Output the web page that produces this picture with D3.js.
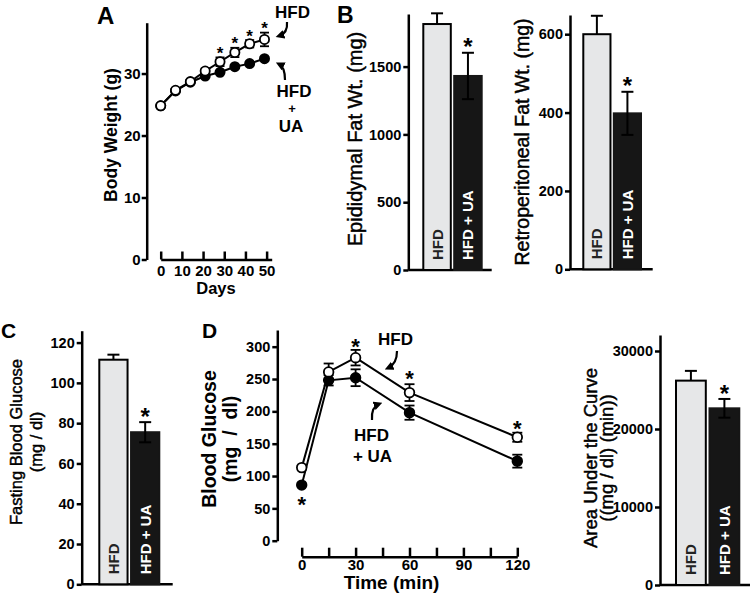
<!DOCTYPE html>
<html><head><meta charset="utf-8">
<script src="https://cdn.jsdelivr.net/npm/d3@7"></script>
<style>
body{margin:0;background:#fff;}
svg{display:block;font-family:"Liberation Sans",Arial,Helvetica,sans-serif;}
</style></head>
<body>
<svg id="c" width="750" height="597"></svg>
<script>
// ---------- DATA ----------
const days = [0, 7, 14, 21, 28, 35, 42, 49];
const bwHFD = [24.8, 27.3, 28.7, 30.4, 31.9, 33.4, 34.8, 35.5];
const bwHFDerr = [0.2, 0.3, 0.3, 0.4, 0.7, 0.75, 0.6, 1.1];
const bwUA = [24.8, 27.2, 28.6, 29.6, 30.2, 31.1, 31.6, 32.4];
const bwUAerr = [0.2, 0.2, 0.2, 0.2, 0.2, 0.2, 0.2, 0.2];
const bwStarDays = [28, 35, 42, 49];
const bwTicksY = [0, 10, 20, 30];
const bwTicksX = [0, 10, 20, 30, 40, 50];

const groups = ["HFD", "HFD + UA"];
const epiMeans = [1814, 1431];
const epiErr = [79, 171];
const epiTicks = [0, 500, 1000, 1500];
const retroMeans = [600, 398];
const retroErr = [47, 55];
const retroTicks = [0, 200, 400, 600];
const fbgMeans = [111.5, 75.5];
const fbgErr = [2.5, 5];
const fbgTicks = [0, 20, 40, 60, 80, 100, 120];
const aucMeans = [26200, 22650];
const aucErr = [1250, 1200];
const aucTicks = [0, 10000, 20000, 30000];

const times = [0, 15, 30, 60, 120];
const gHFD = [113, 261, 283, 229, 160];
const gHFDerr = [3, 13, 12, 13, 7];
const gUA = [86, 248, 252, 198, 123];
const gUAerr = [3, 8, 13, 11, 10];
const gTicksY = [0, 50, 100, 150, 200, 250, 300];
const gTicksX = [0, 15, 30, 45, 60, 75, 90, 105, 120];
const gTickLabelsX = [0, 30, 60, 90, 120];

// ---------- HELPERS ----------
const svg = d3.select("#c");
const FONT = '"Liberation Sans",Arial,Helvetica,sans-serif';

function styleAxis(g, fs) {
  g.selectAll("path.domain").attr("stroke", "#000").attr("stroke-width", 2.5);
  g.selectAll(".tick line").attr("stroke", "#000").attr("stroke-width", 2.5);
  g.selectAll(".tick text").attr("fill", "#000").attr("font-size", fs)
    .attr("font-weight", "bold").attr("font-family", FONT);
}
function star(x, yc, fs) {
  svg.append("text").attr("x", x).attr("y", yc + 0.57 * fs)
    .attr("text-anchor", "middle").attr("font-size", fs).attr("font-weight", "bold")
    .text("*");
}
function vTitle(x, y, txt, fs, weight) {
  const t = svg.append("text").attr("transform", `translate(${x},${y}) rotate(-90)`)
    .attr("text-anchor", "middle").attr("dominant-baseline", "central")
    .attr("font-size", fs).attr("font-weight", weight).style("white-space", "pre").text(txt);
  if (weight === "normal") t.attr("stroke", "#000").attr("stroke-width", 0.45);
}
function label(x, y, txt, fs) {
  svg.append("text").attr("x", x).attr("y", y).attr("font-size", fs)
    .attr("font-weight", "bold").text(txt);
}

svg.append("defs").append("marker").attr("id", "ah")
  .attr("viewBox", "0 0 10 10").attr("refX", 6).attr("refY", 5)
  .attr("markerWidth", 4).attr("markerHeight", 4).attr("orient", "auto")
  .append("path").attr("d", "M0,0 L10,5 L0,10 z").attr("fill", "#000");

function arrow(d) {
  svg.append("path").attr("d", d).attr("fill", "none").attr("stroke", "#000")
    .attr("stroke-width", 2.2).attr("marker-end", "url(#ah)");
}

function barPanel(o) {
  const y = d3.scaleLinear().domain([0, o.top]).range([o.y0, o.y1]);
  const x = d3.scaleBand().domain(groups).range([o.b0, o.b1]).paddingInner(0.11);
  const ax = svg.append("g").attr("transform", `translate(${o.ax},0)`)
    .call(d3.axisLeft(y).tickValues(o.ticks).tickSize(5).tickPadding(2).tickSizeOuter(0).tickFormat(d3.format("d")));
  styleAxis(ax, o.tfs);
  svg.append("line").attr("x1", o.ax).attr("x2", o.xEnd).attr("y1", o.y0).attr("y2", o.y0)
    .attr("stroke", "#000").attr("stroke-width", 2.5);
  groups.forEach((gname, i) => {
    const cx = x(gname) + x.bandwidth() / 2;
    const topY = y(o.means[i]);
    const errTop = y(o.means[i] + o.errs[i]);
    const errBot = y(o.means[i] - o.errs[i]);
    svg.append("rect").attr("x", x(gname)).attr("width", x.bandwidth())
      .attr("y", topY).attr("height", o.y0 - topY)
      .attr("fill", i === 0 ? "#e6e7e8" : "#161616")
      .attr("stroke", i === 0 ? "#000" : "#161616").attr("stroke-width", 2);
    svg.append("line").attr("x1", cx).attr("x2", cx).attr("y1", errTop).attr("y2", i === 1 ? errBot : topY)
      .attr("stroke", "#000").attr("stroke-width", 2);
    svg.append("line").attr("x1", cx - 6).attr("x2", cx + 6).attr("y1", errTop).attr("y2", errTop)
      .attr("stroke", "#000").attr("stroke-width", 2);
    if (i === 1) svg.append("line").attr("x1", cx - 6).attr("x2", cx + 6).attr("y1", errBot).attr("y2", errBot)
      .attr("stroke", "#000").attr("stroke-width", 2);
    svg.append("text").attr("transform", `translate(${cx},${o.y0 - 10}) rotate(-90)`)
      .attr("dominant-baseline", "central").attr("font-size", 15).attr("font-weight", "bold")
      .attr("fill", i === 0 ? "#222" : "#fff").text(gname);
    if (i === 1) star(cx, errTop - 11, 24);
  });
}

// ---------- PANEL A ----------
{
  const x = d3.scaleLinear().domain([0, 52.4]).range([160.7, 271.7]);
  const y = d3.scaleLinear().domain([0, 38.2]).range([259.5, 22.7]);
  const ay = svg.append("g").attr("transform", "translate(146.7,0)")
    .call(d3.axisLeft(y).tickValues(bwTicksY).tickSize(5).tickPadding(1).tickSizeOuter(0));
  styleAxis(ay, 15);
  const axx = svg.append("g").attr("transform", "translate(0,259.5)")
    .call(d3.axisBottom(x).tickValues(bwTicksX).tickSize(-8).tickPadding(6).tickSizeOuter(0));
  styleAxis(axx, 15);
  const line = d3.line().x((d, i) => x(days[i])).y(d => y(d));
  svg.append("path").attr("d", line(bwUA)).attr("fill", "none").attr("stroke", "#000").attr("stroke-width", 2);
  svg.append("path").attr("d", line(bwHFD)).attr("fill", "none").attr("stroke", "#000").attr("stroke-width", 2);
  [[bwUA, bwUAerr, "#000"], [bwHFD, bwHFDerr, "#fff"]].forEach(([vals, errs, fill]) => {
    vals.forEach((v, i) => {
      const cx = x(days[i]);
      if (errs[i] > 0.3) {
        svg.append("line").attr("x1", cx).attr("x2", cx).attr("y1", y(v + errs[i])).attr("y2", y(v - errs[i]))
          .attr("stroke", "#000").attr("stroke-width", 1.8);
        [v + errs[i], v - errs[i]].forEach(e => svg.append("line").attr("x1", cx - 4.5).attr("x2", cx + 4.5)
          .attr("y1", y(e)).attr("y2", y(e)).attr("stroke", "#000").attr("stroke-width", 1.8));
      }
      svg.append("circle").attr("cx", cx).attr("cy", y(v)).attr("r", 4.6)
        .attr("fill", fill).attr("stroke", "#000").attr("stroke-width", 1.8);
    });
  });
  bwStarDays.forEach(dd => {
    const i = days.indexOf(dd);
    star(x(dd), y(bwHFD[i] + bwHFDerr[i]) - 8, 17);
  });
  vTitle(111, 135, "Body Weight (g)", 17.5, "bold");
  svg.append("text").attr("x", 216).attr("y", 294).attr("text-anchor", "middle")
    .attr("font-size", 16.5).attr("font-weight", "bold").text("Days");
  label(97, 24, "A", 24);
  [["HFD", 292.5, 18, 17], ["HFD", 294, 97, 17], ["+", 292, 113, 13], ["UA", 291, 132, 17]].forEach(([t, xx, yy, fs]) =>
    svg.append("text").attr("x", xx).attr("y", yy).attr("text-anchor", "middle")
      .attr("font-size", fs).attr("font-weight", "bold").text(t));
  arrow("M287,22 Q288,33 279,36");
  arrow("M285,80 Q285,67 279,64");
}

// ---------- PANEL B ----------
label(337, 23, "B", 23);
barPanel({top: 1888, y0: 270, y1: 14, ax: 408.3, xEnd: 491.7, b0: 423.3, b1: 481.7,
  means: epiMeans, errs: epiErr, ticks: epiTicks, tfs: 14.5});
vTitle(355, 139, "Epididymal Fat Wt. (mg)", 20, "normal");
barPanel({top: 649, y0: 269.3, y1: 15, ax: 570, xEnd: 652.7, b0: 583.3, b1: 641,
  means: retroMeans, errs: retroErr, ticks: retroTicks, tfs: 14.5});
vTitle(522, 142, "Retroperitoneal Fat Wt. (mg)", 19.5, "normal");

// ---------- PANEL C ----------
label(1, 338, "C", 21);
barPanel({top: 125.9, y0: 584.3, y1: 330.7, ax: 81.7, xEnd: 172.7, b0: 99.3, b1: 159.3,
  means: fbgMeans, errs: fbgErr, ticks: fbgTicks, tfs: 14.5});
vTitle(15.5, 442, "Fasting Blood Glucose", 16.5, "normal");
vTitle(36, 442, "(mg / dl)", 16.5, "normal");

// ---------- PANEL D ----------
{
  const x = d3.scaleLinear().domain([0, 120]).range([301.7, 517.3]);
  const y = d3.scaleLinear().domain([0, 325.8]).range([540.7, 330]);
  const ay = svg.append("g").attr("transform", "translate(277.3,0)")
    .call(d3.axisLeft(y).tickValues(gTicksY).tickSize(5).tickPadding(2).tickSizeOuter(0));
  styleAxis(ay, 14.5);
  const axx = svg.append("g").attr("transform", "translate(0,556.7)")
    .call(d3.axisBottom(x).tickValues(gTicksX).tickSize(-9).tickPadding(3).tickSizeOuter(0)
      .tickFormat(d => gTickLabelsX.includes(d) ? d : ""));
  styleAxis(axx, 15);
  const line = d3.line().x((d, i) => x(times[i])).y(d => y(d));
  [gUA, gHFD].forEach(vals => {
    svg.append("path").attr("d", line(vals)).attr("fill", "none").attr("stroke", "#000").attr("stroke-width", 2);
  });
  [[gUA, gUAerr, "#000"], [gHFD, gHFDerr, "#fff"]].forEach(([vals, errs, fill]) => {
    vals.forEach((v, i) => {
      const cx = x(times[i]);
      if (errs[i] > 4) {
        svg.append("line").attr("x1", cx).attr("x2", cx).attr("y1", y(v + errs[i])).attr("y2", y(v - errs[i]))
          .attr("stroke", "#000").attr("stroke-width", 1.8);
        [v + errs[i], v - errs[i]].forEach(e => svg.append("line").attr("x1", cx - 5).attr("x2", cx + 5)
          .attr("y1", y(e)).attr("y2", y(e)).attr("stroke", "#000").attr("stroke-width", 1.8));
      }
      svg.append("circle").attr("cx", cx).attr("cy", y(v)).attr("r", 4.8)
        .attr("fill", fill).attr("stroke", "#000").attr("stroke-width", 1.8);
    });
  });
  star(x(0), y(gUA[0]) + 14, 22);
  star(x(30), y(gHFD[2] + gHFDerr[2]) - 8, 22);
  star(x(60), y(gHFD[3] + gHFDerr[3]) - 11, 22);
  star(x(120), y(gHFD[4] + gHFDerr[4]) - 9.5, 22);
  vTitle(209, 439, "Blood Glucose", 19.5, "bold");
  vTitle(230, 439, "(mg  /  dl)", 19.5, "bold");
  svg.append("text").attr("x", 391.5).attr("y", 589).attr("text-anchor", "middle")
    .attr("font-size", 19).attr("font-weight", "bold").text("Time (min)");
  label(202, 338, "D", 21);
  svg.append("text").attr("x", 395.5).attr("y", 345).attr("text-anchor", "middle")
    .attr("font-size", 17).attr("font-weight", "bold").text("HFD");
  svg.append("text").attr("x", 371.5).attr("y", 441).attr("text-anchor", "middle")
    .attr("font-size", 17).attr("font-weight", "bold").text("HFD");
  svg.append("text").attr("x", 372.5).attr("y", 462).attr("text-anchor", "middle")
    .attr("font-size", 17).attr("font-weight", "bold").text("+ UA");
  arrow("M397,351 Q397,364 388,368");
  arrow("M372,420 Q371,407 379,404");
}

// ---------- AUC ----------
barPanel({top: 32050, y0: 585, y1: 335, ax: 660, xEnd: 750, b0: 676, b1: 739.3,
  means: aucMeans, errs: aucErr, ticks: aucTicks, tfs: 14.5});
vTitle(590, 458, "Area Under the Curve", 18.5, "normal");
vTitle(606, 458, "((mg / dl) (min))", 18.5, "normal");
</script>
</body></html>
